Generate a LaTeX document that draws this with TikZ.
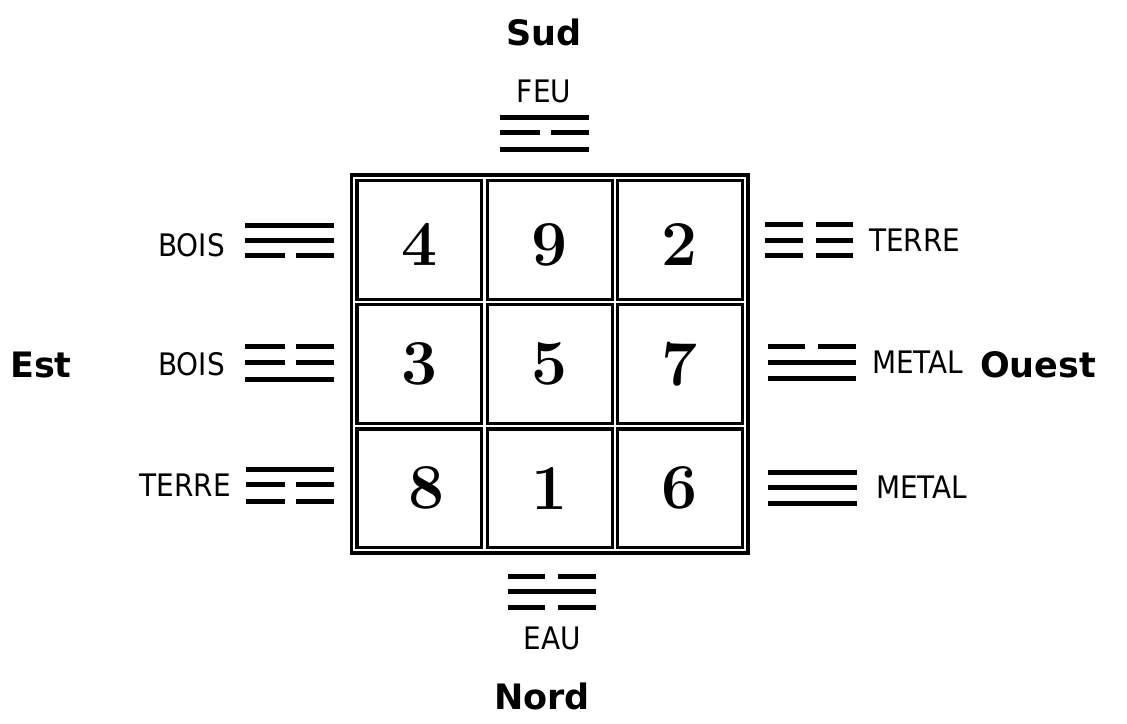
\documentclass[tikz,border=0pt]{standalone}
\usepackage{fontspec}
\newfontfamily\labfont{DejaVu Sans Condensed}
\newfontfamily\dirfont{DejaVu Sans}
\newcommand\yangbar[3]{\draw[bar] (#1,#3) -- (#2,#3);}
\newcommand\yinbar[5]{\draw[bar] (#1,#5) -- (#3,#5) (#4,#5) -- (#2,#5);}
\newcommand\lowdig[1]{\rlap{\smash{\raisebox{-5pt}{#1}}}\phantom{#1}}
\begin{document}
\begin{tikzpicture}[x=1pt,y=-1pt,
  bar/.style={line width=5pt, line cap=butt},
  frame/.style={line width=3.2pt},
  cell/.style={draw, frame, rectangle, minimum width=124.8pt, minimum height=118.7pt, inner sep=0pt,
    font=\bfseries\fontsize{64}{64}\selectfont},
  lab/.style={font=\labfont\fontsize{31}{31}\selectfont, inner sep=0pt},
  dir/.style={font=\dirfont\bfseries\fontsize{35}{35}\selectfont, inner sep=0pt}]
\useasboundingbox[fill=white] (0,0) rectangle (1127,723);
% outer frame
\draw[frame] (351.5,175) rectangle (748,553);
% cells
\node[cell] (c4) at (419.4,239.9) {\lowdig{4}};
\node[cell] (c9) at (549.7,239.9) {\lowdig{9}};
\node[cell] (c2) at (680.0,239.9) {\lowdig{2}};
\node[cell] (c3) at (419.4,364.1) {3};
\node[cell] (c5) at (549.7,364.1) {5};
\node[cell] (c7) at (680.0,364.1) {7};
\node[cell] (c8) at (419.4,488.3) {\hspace{14pt}8};
\node[cell] (c1) at (549.7,488.3) {1};
\node[cell] (c6) at (680.0,488.3) {6};
% trigrams
% FEU (south, top)
\yangbar{500}{589}{117.5}
\yinbar{500}{589}{540}{551}{132.5}
\yangbar{500}{589}{149}
% BOIS (top left)
\yangbar{245}{334}{225}
\yangbar{245}{334}{240}
\yinbar{245}{334}{285}{296}{255}
% BOIS (middle left)
\yinbar{245}{334}{285}{296}{346}
\yinbar{245}{334}{285}{296}{362}
\yangbar{245}{334}{379}
% TERRE (bottom left)
\yangbar{246}{334}{469}
\yinbar{246}{334}{285}{296}{484}
\yinbar{246}{334}{285}{296}{501}
% TERRE (top right)
\yinbar{765}{853}{803}{816}{224}
\yinbar{765}{853}{803}{816}{240}
\yinbar{765}{853}{803}{816}{255}
% METAL (middle right)
\yinbar{768}{856}{805}{818}{346}
\yangbar{768}{856}{362}
\yangbar{768}{856}{378}
% METAL (bottom right)
\yangbar{768}{857}{472}
\yangbar{768}{857}{487}
\yangbar{768}{857}{503}
% EAU (north, bottom)
\yinbar{508}{596}{545}{558}{576}
\yangbar{508}{596}{591}
\yinbar{508}{596}{545}{558}{607}
% element labels
\node[lab] (feu) at (544,91) {FEU};
\node[lab, anchor=east] (bois1) at (225,245) {BOIS};
\node[lab, anchor=east] (bois2) at (225,364) {BOIS};
\node[lab, anchor=east] (terre1) at (231,485) {TERRE};
\node[lab, anchor=west] (terre2) at (869,240) {TERRE};
\node[lab, anchor=west] (metal1) at (872,362) {METAL};
\node[lab, anchor=west] (metal2) at (876,487) {METAL};
\node[lab] (eau) at (552,638) {EAU};
% directions
\node[dir, anchor=base] (sud) at (544,45) {Sud};
\node[dir, anchor=base] (nord) at (542,709) {Nord};
\node[dir, anchor=base west] (est) at (10,377) {Est};
\node[dir, anchor=base west] (ouest) at (980,377) {Ouest};
\end{tikzpicture}
\end{document}
